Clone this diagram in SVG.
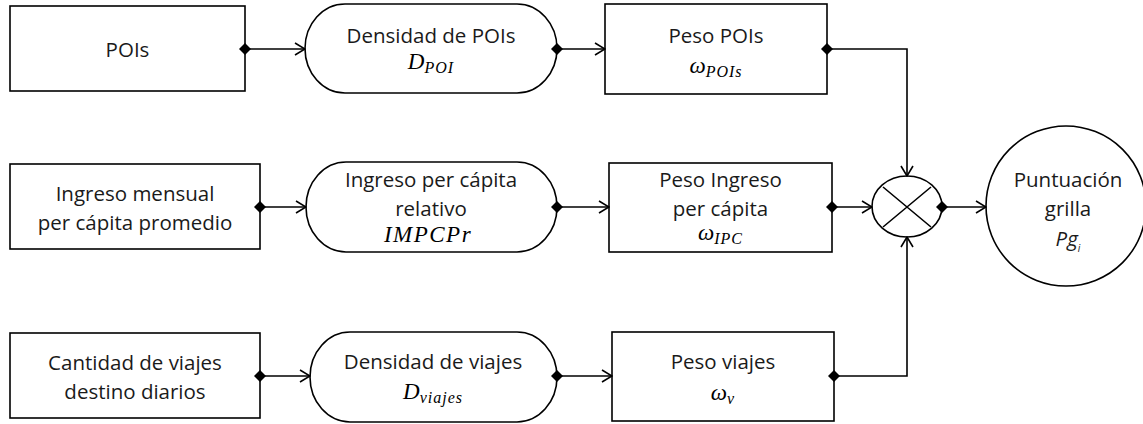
<svg xmlns="http://www.w3.org/2000/svg" width="1143" height="424" viewBox="0 0 1143 424">
<style>
.shape{fill:#fff;stroke:#000;stroke-width:1.6}
.t{font-family:"Open Sans","Noto Sans",sans-serif;font-size:20.5px;fill:#1a1a1a;text-anchor:middle}
.m{font-family:"Liberation Serif","DejaVu Serif",serif;font-style:italic;font-size:23px;fill:#000;text-anchor:middle}
.s{font-size:16px;letter-spacing:1px}
.c{fill:none;stroke:#000;stroke-width:1.6}
</style>
<defs>
<marker id="dia" viewBox="-7 -7 14 14" refX="0" refY="0" markerWidth="14" markerHeight="14" markerUnits="userSpaceOnUse" orient="auto">
<path d="M0,-6 L6,0 L0,6 L-6,0 Z" fill="#000"/>
</marker>
<marker id="arr" viewBox="-12 -8 13 16" refX="0" refY="0" markerWidth="13" markerHeight="16" markerUnits="userSpaceOnUse" orient="auto">
<path d="M-10,-6 L0,0 L-10,6" fill="none" stroke="#000" stroke-width="1.6"/>
</marker>
</defs>

<g id="pois">
<rect class="shape" x="10" y="6" width="235" height="85"/>
<text class="t" x="127.5" y="57">POIs</text>
</g>
<g id="densidad-pois">
<rect class="shape" x="305" y="4" width="252" height="89" rx="40" ry="44.5"/>
<text class="t" x="431" y="43">Densidad de POIs</text>
<text class="m" x="431" y="69">D<tspan class="s" dy="4">POI</tspan></text>
</g>
<g id="peso-pois">
<rect class="shape" x="605" y="4" width="222" height="90"/>
<text class="t" x="716" y="43">Peso POIs</text>
<text class="m" x="716" y="73">ω<tspan class="s" dy="4">POIs</tspan></text>
</g>

<g id="ingreso">
<rect class="shape" x="10" y="164" width="250" height="85"/>
<text class="t" x="135" y="201">Ingreso mensual</text>
<text class="t" x="135" y="230">per cápita promedio</text>
</g>
<g id="ingreso-relativo">
<rect class="shape" x="306" y="162" width="251" height="90" rx="40" ry="45"/>
<text class="t" x="431" y="187">Ingreso per cápita</text>
<text class="t" x="431" y="216">relativo</text>
<text class="m" x="428" y="242" letter-spacing="1.5">IMPCPr</text>
</g>
<g id="peso-ingreso">
<rect class="shape" x="609" y="163" width="223" height="89"/>
<text class="t" x="720.5" y="187">Peso Ingreso</text>
<text class="t" x="720.5" y="216">per cápita</text>
<text class="m" x="720.5" y="240">ω<tspan class="s" dy="4">IPC</tspan></text>
</g>

<g id="viajes">
<rect class="shape" x="10" y="333" width="250" height="85"/>
<text class="t" x="135" y="370">Cantidad de viajes</text>
<text class="t" x="135" y="399">destino diarios</text>
</g>
<g id="densidad-viajes">
<rect class="shape" x="310" y="332" width="247" height="90" rx="40" ry="45"/>
<text class="t" x="433" y="369">Densidad de viajes</text>
<text class="m" x="433" y="399">D<tspan class="s" dy="4">viajes</tspan></text>
</g>
<g id="peso-viajes">
<rect class="shape" x="612" y="332" width="222" height="89"/>
<text class="t" x="723" y="369">Peso viajes</text>
<text class="m" x="723" y="400">ω<tspan class="s" dy="4">v</tspan></text>
</g>

<g id="multiplicador">
<ellipse class="shape" cx="907" cy="206.5" rx="35" ry="30.5"/>
<path class="c" d="M883,187 L931,227 M931,187 L883,227"/>
</g>
<g id="puntuacion">
<circle class="shape" cx="1066" cy="206" r="80"/>
<text class="t" x="1068" y="187">Puntuación</text>
<text class="t" x="1068" y="216">grilla</text>
<text class="t" x="1068" y="246" font-style="italic">Pg<tspan font-size="10" dy="6">i</tspan></text>
</g>

<g id="connectors">
<path class="c" d="M245,49 L305,49" marker-start="url(#dia)" marker-end="url(#arr)"/>
<path class="c" d="M557,49 L605,49" marker-start="url(#dia)" marker-end="url(#arr)"/>
<path class="c" d="M827,49 L907,49 L907,176" marker-start="url(#dia)" marker-end="url(#arr)"/>
<path class="c" d="M260,207 L306,207" marker-start="url(#dia)" marker-end="url(#arr)"/>
<path class="c" d="M557,207 L609,207" marker-start="url(#dia)" marker-end="url(#arr)"/>
<path class="c" d="M832,207 L872,207" marker-start="url(#dia)" marker-end="url(#arr)"/>
<path class="c" d="M942,207 L986,207" marker-start="url(#dia)" marker-end="url(#arr)"/>
<path class="c" d="M260,376 L310,376" marker-start="url(#dia)" marker-end="url(#arr)"/>
<path class="c" d="M557,376 L612,376" marker-start="url(#dia)" marker-end="url(#arr)"/>
<path class="c" d="M834,376 L907,376 L907,237" marker-start="url(#dia)" marker-end="url(#arr)"/>
</g>
</svg>
